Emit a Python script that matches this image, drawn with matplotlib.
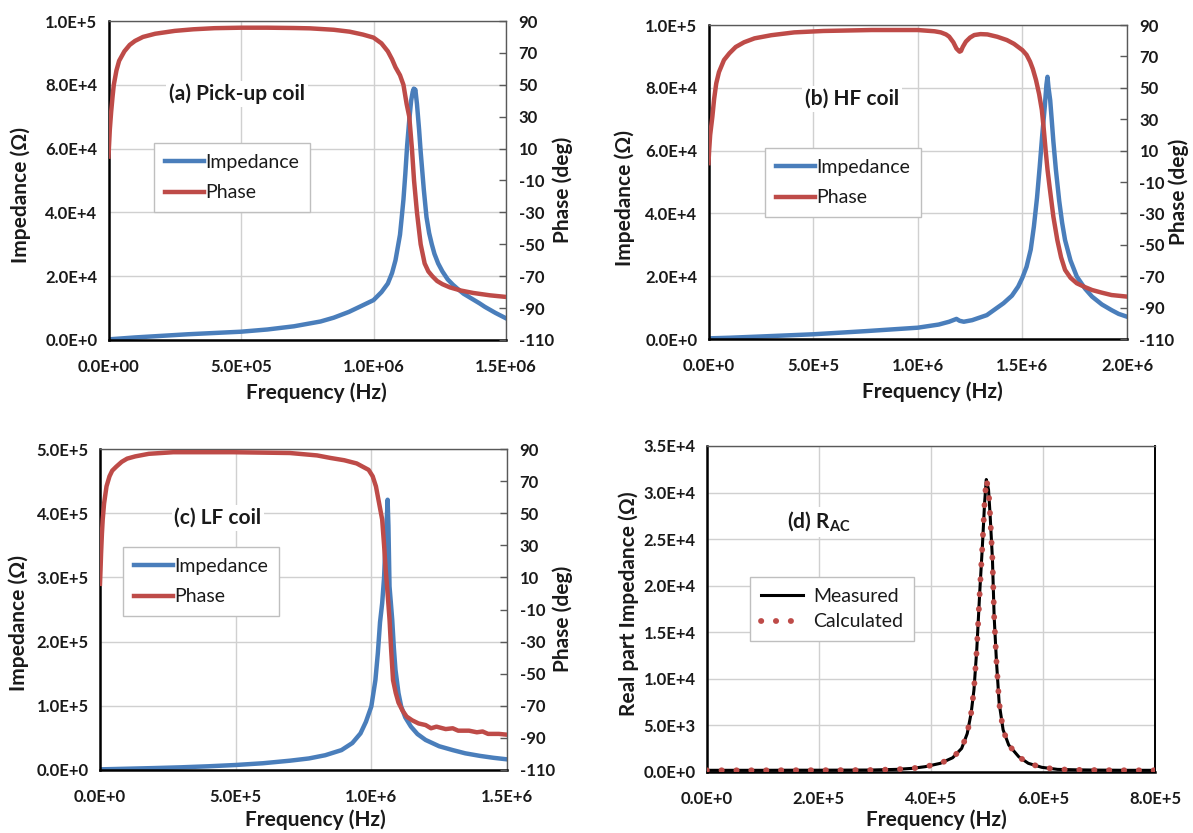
import matplotlib
matplotlib.use('Agg')
import matplotlib.pyplot as plt

plt.rcParams['font.family'] = ['Lato', 'DejaVu Sans']
plt.rcParams['mathtext.fontset'] = 'custom'
plt.rcParams['mathtext.bf'] = 'Lato:bold'
plt.rcParams['mathtext.rm'] = 'Lato'

BLUE = '#4A7EBB'
RED = '#BE4B48'
GRID = '#D0D0D0'
TXT = '#1a1a1a'

# ---------------- (a) Pick-up coil ----------------
a_imp_f = [0, 5e4, 1e5, 2e5, 3e5, 4e5, 5e5, 6e5, 7e5, 7.6e5, 8e5, 8.5e5, 9.07e5, 9.5e5,
           1.0e6, 1.03e6, 1.054e6, 1.07e6, 1.083e6, 1.1e6, 1.106e6, 1.113e6, 1.12e6,
           1.127e6, 1.135e6, 1.142e6, 1.148e6, 1.152e6, 1.155e6, 1.158e6, 1.164e6,
           1.172e6, 1.178e6, 1.19e6, 1.2e6, 1.21e6, 1.22e6, 1.23e6, 1.244e6, 1.26e6,
           1.28e6, 1.3e6, 1.318e6, 1.34e6, 1.37e6, 1.4e6, 1.42e6, 1.46e6, 1.5e6]
a_imp = [200, 500, 800, 1300, 1800, 2200, 2600, 3300, 4300, 5200, 5800, 7000, 8800, 10500,
         12500, 15000, 17700, 21000, 25000, 33000, 38000, 44000, 52000,
         61000, 69000, 75000, 77800, 78800, 78000, 78500, 74000,
         66000, 59000, 47000, 38500, 33500, 30000, 27000, 24000, 21500,
         19000, 17300, 16000, 14500, 13000, 11500, 10400, 8500, 6800]
a_ph_f = [0, 2e3, 5e3, 1e4, 1.5e4, 2e4, 3e4, 4e4, 6e4, 8e4, 1e5, 1.3e5, 1.76e5, 2.5e5,
          3.2e5, 4e5, 5e5, 6e5, 7e5, 7.6e5, 8.5e5, 9.1e5, 9.6e5, 1.0e6, 1.03e6, 1.054e6,
          1.07e6, 1.083e6, 1.1e6, 1.113e6, 1.125e6, 1.135e6, 1.145e6, 1.153e6, 1.164e6,
          1.178e6, 1.193e6, 1.207e6, 1.222e6, 1.24e6, 1.26e6, 1.288e6, 1.33e6, 1.376e6,
          1.44e6, 1.5e6]
a_ph = [5, 12, 22, 33, 42, 50, 59, 65, 71, 75, 77.5, 80, 82, 83.8,
        84.8, 85.5, 85.8, 85.8, 85.6, 85.4, 84.5, 83.3, 81.5, 79.6, 76, 71,
        66, 61, 56, 50, 38, 30, 10, -10, -30,
        -50, -62, -67, -70, -73, -75, -77, -79, -80.5,
        -82, -83]

# ---------------- (b) HF coil ----------------
b_imp_f = [0, 1e5, 2.5e5, 5e5, 7.5e5, 1.0e6, 1.1e6, 1.15e6, 1.185e6, 1.2e6, 1.22e6, 1.26e6,
           1.33e6, 1.41e6, 1.45e6, 1.48e6, 1.5e6, 1.52e6, 1.54e6, 1.555e6, 1.57e6, 1.583e6,
           1.595e6, 1.607e6, 1.615e6, 1.62e6, 1.625e6, 1.633e6, 1.64e6, 1.648e6, 1.66e6,
           1.676e6, 1.69e6, 1.704e6, 1.73e6, 1.76e6, 1.8e6, 1.833e6, 1.88e6, 1.926e6,
           1.96e6, 2.0e6]
b_imp = [200, 400, 800, 1500, 2500, 3600, 4600, 5500, 6400, 5800, 5500, 6000,
         7600, 11400, 13800, 16700, 19500, 23000, 28500, 35800, 45000, 55000,
         65000, 74000, 81000, 83500, 80000, 76000, 70000, 63000, 54000,
         44000, 37000, 31500, 25000, 19900, 16000, 13500, 11000, 9200,
         8000, 7100]
b_ph_f = [0, 3e3, 8e3, 1.85e4, 2.7e4, 3.7e4, 5e4, 7.4e4, 1e5, 1.3e5, 1.7e5, 2.2e5, 3e5,
          4.1e5, 5.5e5, 7.8e5, 1.0e6, 1.08e6, 1.11e6, 1.135e6, 1.15e6, 1.17e6, 1.185e6,
          1.2e6, 1.207e6, 1.215e6, 1.23e6, 1.25e6, 1.27e6, 1.3e6, 1.333e6, 1.38e6, 1.426e6,
          1.46e6, 1.5e6, 1.52e6, 1.537e6, 1.55e6, 1.565e6, 1.58e6, 1.593e6, 1.602e6,
          1.611e6, 1.62e6, 1.63e6, 1.648e6, 1.667e6, 1.685e6, 1.704e6, 1.73e6, 1.76e6,
          1.8e6, 1.833e6, 1.88e6, 1.926e6, 2.0e6]
b_ph = [2, 10, 20, 31.6, 43, 52.8, 60, 67.7, 72, 76, 79, 81.5, 83.5,
        85.3, 86.2, 86.8, 86.8, 86, 85.3, 84, 82.6, 79, 75,
        73, 73.5, 76, 79.4, 82, 83.6, 84.2, 84, 82.5, 80.4,
        78, 74, 71, 66.6, 62, 55, 46, 35.9, 24,
        10.4, -2, -13, -32, -47, -58, -66, -71, -74.5,
        -77, -78.8, -80.5, -82, -83]

# ---------------- (c) LF coil ----------------
c_imp_f = [0, 1e5, 2e5, 3e5, 4e5, 5e5, 6e5, 7e5, 7.7e5, 8.3e5, 8.9e5, 9.3e5, 9.6e5,
           9.8e5, 1.0e6, 1.015e6, 1.024e6, 1.032e6, 1.04e6, 1.047e6, 1.053e6, 1.058e6,
           1.06e6, 1.063e6, 1.067e6, 1.072e6, 1.077e6, 1.083e6, 1.089e6, 1.1e6, 1.11e6,
           1.125e6, 1.146e6, 1.17e6, 1.2e6, 1.25e6, 1.3e6, 1.346e6, 1.4e6, 1.45e6, 1.5e6]
c_imp = [1000, 2000, 3000, 4200, 5800, 7800, 10500, 14500, 18000, 23000, 31000, 42000, 57000,
         75000, 99000, 140000, 182000, 230000, 260000, 300000, 364000, 400000,
         421000, 380000, 286000, 260000, 234000, 190000, 156000, 120000, 99000,
         82000, 67600, 56000, 46800, 37000, 31000, 26000, 22000, 19000, 16600]
c_ph_f = [0, 2e3, 4e3, 7e3, 1e4, 1.5e4, 2.4e4, 3.5e4, 4.5e4, 6e4, 8e4, 1e5, 1.3e5, 1.8e5,
          2.7e5, 4.9e5, 7e5, 8e5, 8.5e5, 9.0e5, 9.46e5, 9.9e5, 1.005e6, 1.017e6, 1.03e6,
          1.04e6, 1.047e6, 1.053e6, 1.06e6, 1.067e6, 1.073e6, 1.08e6, 1.09e6, 1.1e6,
          1.115e6, 1.13e6, 1.15e6, 1.174e6, 1.2e6, 1.22e6, 1.24e6, 1.274e6, 1.3e6,
          1.32e6, 1.36e6, 1.389e6, 1.41e6, 1.43e6, 1.47e6, 1.5e6]
c_ph = [6, 15, 25, 37, 46, 56, 66.7, 73, 76.5, 79, 82, 84, 85.4, 87,
        88, 88, 87.5, 86, 84.4, 83, 81, 77, 73, 66.7, 55,
        46, 30, 14.7, 0, -16, -35, -54, -62, -68,
        -73, -76.7, -79, -81, -82, -84, -83, -84.5, -84,
        -85.5, -85.5, -86.5, -86, -87.5, -87.5, -88]

# ---------------- (d) R_AC ----------------
d_f = [0, 5e4, 1e5, 1.5e5, 2e5, 2.5e5, 2.94e5, 3.39e5, 3.67e5, 3.9e5, 4.17e5, 4.39e5,
       4.55e5, 4.65e5, 4.72e5, 4.77e5, 4.82e5, 4.875e5, 4.92e5, 4.96e5, 4.99e5, 5.03e5,
       5.06e5, 5.1e5, 5.13e5, 5.17e5, 5.22e5, 5.29e5, 5.39e5, 5.57e5, 5.74e5, 5.98e5,
       6.26e5, 6.6e5, 7.0e5, 7.5e5, 8.0e5]
d_measured = [150, 150, 150, 160, 160, 170, 180, 250, 360, 540, 900, 1500,
              2500, 4100, 6300, 8800, 13100, 19500, 24200, 28900, 31400, 30300,
              27400, 22800, 16700, 12000, 7350, 4500, 2870, 1600, 900, 470,
              250, 200, 170, 150, 150]
d_calculated = [150, 150, 150, 160, 160, 170, 180, 250, 360, 540, 900, 1500,
                2500, 4100, 6300, 8800, 13100, 19500, 24200, 28900, 31400, 30300,
                27400, 22800, 16700, 12000, 7350, 4500, 2870, 1600, 900, 470,
                250, 200, 170, 150, 150]

W, H = 1193, 833
fig = plt.figure(figsize=(W / 100, H / 100), dpi=100)

TICK_FS = 12
LAB_FS = 15
LEG_FS = 14


def rect(l, r, t, b):
    return [l / W, 1 - b / H, (r - l) / W, (b - t) / H]


def style_primary(ax, xlim, xticks, xlabels, ylim, yticks, ylabels):
    ax.set_xlim(*xlim)
    ax.set_ylim(*ylim)
    ax.set_xticks(xticks, xlabels, fontweight='bold', fontsize=TICK_FS, color=TXT)
    ax.set_yticks(yticks, ylabels, fontweight='bold', fontsize=TICK_FS, color=TXT)
    ax.tick_params(axis='x', length=0, pad=14)
    ax.tick_params(axis='y', length=0, pad=8)
    ax.grid(True, color=GRID, lw=1)
    ax.set_axisbelow(True)
    for s in ['left', 'bottom']:
        ax.spines[s].set_color('black')
        ax.spines[s].set_linewidth(1.8)
    for s in ['top', 'right']:
        ax.spines[s].set_color('#595959')
        ax.spines[s].set_linewidth(1.0)


def fig_text(x, y, s, **kw):
    fig.text(x / W, 1 - y / H, s, ha='center', va='center', **kw)


def make_legend(ax, handles, labels, xy, **kw):
    leg = ax.legend(handles, labels, loc='upper left',
                    bbox_to_anchor=(xy[0] / W, 1 - xy[1] / H),
                    bbox_transform=fig.transFigure, borderaxespad=0,
                    fontsize=LEG_FS, frameon=True, fancybox=False, framealpha=1,
                    edgecolor='#BFBFBF', borderpad=0.55, **kw)
    leg.get_frame().set_linewidth(1.0)
    for t in leg.get_texts():
        t.set_color(TXT)
    return leg


def coil_panel(r, f_imp, imp, f_ph, ph, xlim, xticks, xlabels, ylim, yticks, ylabels,
               title, title_xy, leg_xy, ylab_xy, phlab_xy, xlab_xy):
    ax = fig.add_axes(rect(*r))
    ax.plot(f_imp, imp, color=BLUE, lw=3.2, label='Impedance')
    style_primary(ax, xlim, xticks, xlabels, ylim, yticks, ylabels)
    ax2 = ax.twinx()
    ax2.plot(f_ph, ph, color=RED, lw=3.2, label='Phase')
    ax2.set_ylim(-110, 90)
    pt = list(range(-110, 91, 20))
    ax2.set_yticks(pt, [str(v) for v in pt], fontweight='bold', fontsize=TICK_FS, color=TXT)
    ax2.tick_params(axis='y', direction='in', length=5, width=1, color='#595959', pad=9)
    for s in ax2.spines.values():
        s.set_visible(False)
    h1, l1 = ax.get_legend_handles_labels()
    h2, l2 = ax2.get_legend_handles_labels()
    make_legend(ax2, h1 + h2, l1 + l2, leg_xy, handlelength=2.0,
                handletextpad=0.1, labelspacing=0.7)
    fig_text(*title_xy, title, fontsize=LAB_FS, fontweight='bold', color=TXT,
             bbox=dict(facecolor='white', edgecolor='none', pad=2))
    fig_text(*ylab_xy, 'Impedance (Ω)', fontsize=LAB_FS, fontweight='bold', rotation=90, color=TXT)
    fig_text(*phlab_xy, 'Phase (deg)', fontsize=LAB_FS, fontweight='bold', rotation=90, color=TXT)
    fig_text(*xlab_xy, 'Frequency (Hz)', fontsize=LAB_FS, fontweight='bold', color=TXT)
    return ax, ax2


# (a)
coil_panel((108.5, 506, 21, 340), a_imp_f, a_imp, a_ph_f, a_ph,
           (0, 1.5e6), [0, 5e5, 1e6, 1.5e6], ['0.0E+00', '5.0E+05', '1.0E+06', '1.5E+06'],
           (0, 1e5), [0, 2e4, 4e4, 6e4, 8e4, 1e5],
           ['0.0E+0', '2.0E+4', '4.0E+4', '6.0E+4', '8.0E+4', '1.0E+5'],
           '(a) Pick-up coil', (237, 94), (154, 143), (21, 195), (563, 190), (316, 393))

# (b)
coil_panel((708.5, 1127, 25, 339), b_imp_f, b_imp, b_ph_f, b_ph,
           (0, 2e6), [0, 5e5, 1e6, 1.5e6, 2e6], ['0.0E+0', '5.0E+5', '1.0E+6', '1.5E+6', '2.0E+6'],
           (0, 1e5), [0, 2e4, 4e4, 6e4, 8e4, 1e5],
           ['0.0E+0', '2.0E+4', '4.0E+4', '6.0E+4', '8.0E+4', '1.0E+5'],
           '(b) HF coil', (852, 99), (765, 148), (625, 198), (1179, 192), (932, 392))

# (c)
coil_panel((100, 507, 449, 770), c_imp_f, c_imp, c_ph_f, c_ph,
           (0, 1.5e6), [0, 5e5, 1e6, 1.5e6], ['0.0E+0', '5.0E+5', '1.0E+6', '1.5E+6'],
           (0, 5e5), [0, 1e5, 2e5, 3e5, 4e5, 5e5],
           ['0.0E+0', '1.0E+5', '2.0E+5', '3.0E+5', '4.0E+5', '5.0E+5'],
           '(c) LF coil', (218, 518), (123, 547), (19, 623), (563, 619), (315, 820))

# (d)
axd = fig.add_axes(rect(706.6, 1155, 446, 771.7))
axd.plot(d_f, d_measured, color='black', lw=2.2, label='Measured', zorder=3)
axd.plot(d_f, d_calculated, color=RED, lw=4.2, linestyle=(0, (0.05, 2.5)),
         dash_capstyle='round', label='Calculated', zorder=4)
style_primary(axd, (0, 8e5), [0, 2e5, 4e5, 6e5, 8e5],
              ['0.0E+0', '2.0E+5', '4.0E+5', '6.0E+5', '8.0E+5'],
              (0, 3.5e4), [0, 5e3, 1e4, 1.5e4, 2e4, 2.5e4, 3e4, 3.5e4],
              ['0.0E+0', '5.0E+3', '1.0E+4', '1.5E+4', '2.0E+4', '2.5E+4', '3.0E+4', '3.5E+4'])
axd.spines['right'].set_color('black')
axd.spines['right'].set_linewidth(1.4)
hd, ld = axd.get_legend_handles_labels()
make_legend(axd, hd, ld, (750, 577), handlelength=2.2, handletextpad=0.5, labelspacing=0.45)
fig_text(819, 522, r'(d) $\mathbf{R}_{\mathbf{AC}}$', fontsize=LAB_FS, fontweight='bold', color=TXT,
         bbox=dict(facecolor='white', edgecolor='none', pad=2))
fig_text(629, 604, 'Real part Impedance (Ω)', fontsize=LAB_FS, fontweight='bold', rotation=90, color=TXT)
fig_text(936, 820, 'Frequency (Hz)', fontsize=LAB_FS, fontweight='bold', color=TXT)

fig.savefig('out.png', dpi=100, facecolor='white')
